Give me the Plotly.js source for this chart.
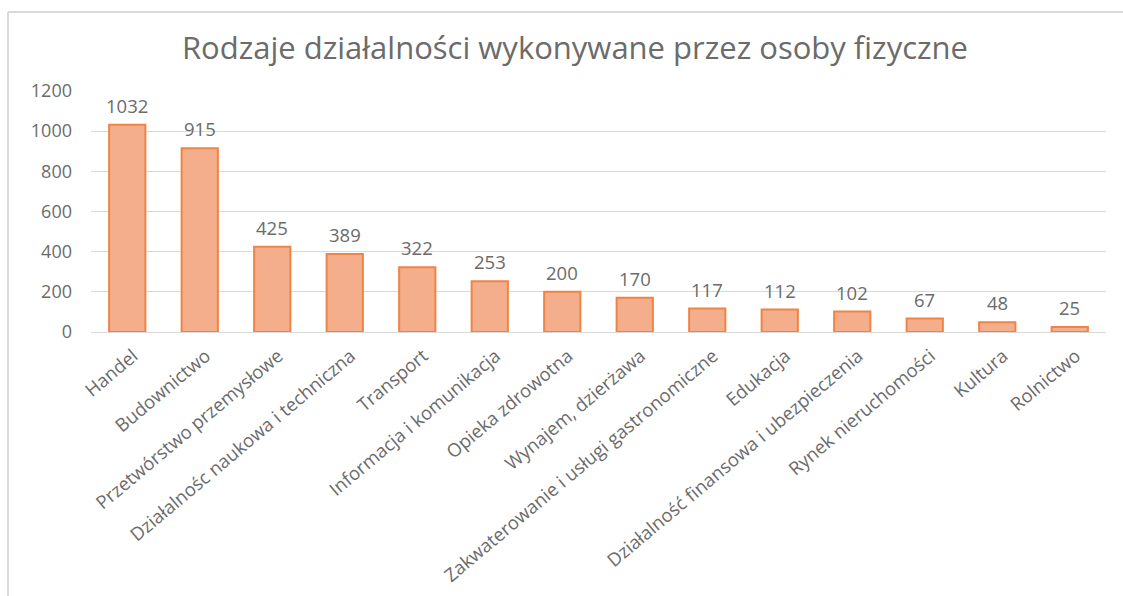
<!DOCTYPE html>
<html>
<head>
<meta charset="utf-8">
<script src="https://cdn.plot.ly/plotly-3.0.1.min.js"></script>
<style>html,body{margin:0;padding:0;background:#fff;}#chart{width:1123px;height:596px;}</style>
</head>
<body>
<div id="chart"></div>
<script>
const categories = ["Handel","Budownictwo","Przetwórstwo przemysłowe","Działalnośc naukowa i techniczna","Transport","Informacja i komunikacja","Opieka zdrowotna","Wynajem, dzierżawa","Zakwaterowanie i usługi gastronomiczne","Edukacja","Działalność finansowa i ubezpieczenia","Rynek nieruchomości","Kultura","Rolnictwo"];
const values = [1032,915,425,389,322,253,200,170,117,112,102,67,48,25];
const yTicks = [0,200,400,600,800,1000,1200];

const W = 1123, H = 596;
const m = {l:91, r:17, t:91, b:264};
const pw = W - m.l - m.r, ph = H - m.t - m.b;
const px = x => (x - m.l) / pw;
const py = y => 1 - (y - m.t) / ph;

const font = "'Open Sans', sans-serif";
const grey = '#6b6b6b';
const data = [{
  type: 'bar',
  x: categories,
  y: values,
  cliponaxis: false,
  marker: {color: '#f4ae8b', line: {color: '#ee8445', width: 2}},
  width: 0.5,
  hoverinfo: 'x+y'
}];
const annotations = categories.map((c, i) => ({
  x: c, y: values[i], xref: 'x', yref: 'y',
  text: String(values[i]), showarrow: false,
  yanchor: 'bottom', xanchor: 'center', yshift: 5,
  font: {family: font, size: 18.5, color: grey}
}));
const layout = {
  width: W, height: H,
  margin: m,
  paper_bgcolor: '#fff', plot_bgcolor: '#fff',
  showlegend: false,
  title: {text: 'Rodzaje działalności wykonywane przez osoby fizyczne', font: {family: font, size: 31, color: grey}, x: 0.512, xanchor: 'center', y: 0.92, yanchor: 'middle'},
  xaxis: {type: 'category', tickangle: -40, tickfont: {family: font, size: 18.5, color: grey}, showgrid: false, showline: true, linecolor: '#d9d9d9', linewidth: 1, ticks: '', ticklabelstandoff: 5, ticklabelshift: 6, automargin: false},
  yaxis: {range: [0, 1200], tickvals: yTicks, ticktext: yTicks.map(String), tickfont: {family: font, size: 18, color: grey}, gridcolor: '#d9d9d9', gridwidth: 1, zeroline: false, showline: false, ticks: '', ticklabelstandoff: 18, automargin: false},
  bargap: 0.5,
  annotations: annotations,
  shapes: [
    {type: 'line', xref: 'paper', yref: 'paper', x0: px(8), x1: px(1123), y0: py(12), y1: py(12), line: {color: '#d9d9d9', width: 2}},
    {type: 'line', xref: 'paper', yref: 'paper', x0: px(8), x1: px(8), y0: py(12), y1: py(600), line: {color: '#d9d9d9', width: 2}}
  ]
};
Plotly.newPlot('chart', data, layout, {displayModeBar: false, staticPlot: true});
</script>
</body>
</html>
